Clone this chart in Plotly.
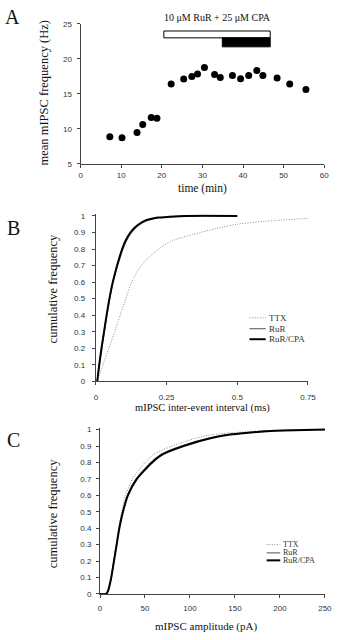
import plotly.graph_objects as go

# ---------------- Data ----------------
# Panel A: mean mIPSC frequency over time
time_min = [7.2, 10.2, 13.9, 15.3, 17.4, 18.8, 22.3, 25.4, 27.4, 28.8, 30.5, 33.0,
            34.4, 37.4, 39.4, 41.4, 43.4, 44.9, 48.4, 51.5, 55.5]
freq_hz = [8.85, 8.7, 9.45, 10.6, 11.6, 11.5, 16.4, 17.1, 17.45, 17.8, 18.75, 17.75,
           17.3, 17.6, 17.15, 17.6, 18.3, 17.6, 17.25, 16.4, 15.6]
rur_span = [20.5, 46.7]      # 10 uM RuR + 25 uM CPA application bar (white)
cpa_span = [34.9, 46.7]      # black bar
drug_label = "10 \u03bcM RuR + 25 \u03bcM CPA"

# Panel B: cumulative inter-event interval (ms)
cum_b = [0, 0.1, 0.2, 0.3, 0.4, 0.5, 0.6, 0.7, 0.8, 0.85, 0.9, 0.93, 0.95, 0.97, 0.98, 0.99, 0.995, 1.0, 1.0]
rurcpa_b = [0.005, 0.012, 0.020, 0.029, 0.038, 0.048, 0.060, 0.075, 0.093, 0.105, 0.122, 0.138,
            0.152, 0.172, 0.19, 0.22, 0.26, 0.32, 0.50]
rur_b = [0.005, 0.012, 0.021, 0.030, 0.039, 0.049, 0.061, 0.077, 0.096, 0.108, 0.126, 0.142,
         0.157, 0.178, 0.196, 0.225, 0.265, 0.33, 0.50]
cum_b_ttx = [0, 0.1, 0.2, 0.3, 0.4, 0.5, 0.6, 0.7, 0.8, 0.85, 0.9, 0.93, 0.95, 0.968, 0.986]
ttx_b = [0.005, 0.025, 0.046, 0.067, 0.086, 0.106, 0.127, 0.160, 0.222, 0.27, 0.37, 0.44, 0.50, 0.60, 0.75]

# Panel C: cumulative amplitude (pA)
cum_c = [0, 0, 0.02, 0.1, 0.2, 0.3, 0.4, 0.5, 0.6, 0.7, 0.8, 0.85, 0.9, 0.95, 0.97, 0.98, 0.99, 0.995, 1.0]
rurcpa_c = [0, 7, 9, 12.5, 15.5, 18.5, 21.5, 25.5, 31, 41, 58, 70, 93, 125, 145, 162, 185, 205, 250]
rur_c = [0, 7, 9, 12.5, 15.4, 18.4, 21.3, 25.2, 30.5, 40, 56.5, 68, 90, 122, 142, 160, 183, 204, 250]
ttx_c = [0, 7, 9, 12.5, 15.3, 18, 20.5, 24, 28.5, 36, 50, 60, 80, 108, 125, 145, 170, 195, 250]

legend_names = ["TTX", "RuR", "RuR/CPA"]

# ---------------- Figure ----------------
W, H = 339, 640
def px(x):
    return x / W
def py(y):
    return 1 - y / H

SERIF = "Liberation Serif, Times New Roman, serif"
SANS = "Liberation Sans, Arial, sans-serif"

styles = {
    "TTX": dict(color="#8a8a8a", width=1.0, dash="1px,1.6px"),
    "RuR": dict(color="#7a7a7a", width=1.3, dash="solid"),
    "RuR/CPA": dict(color="#000000", width=2.0, dash="solid"),
}

fig = go.Figure()

fig.add_trace(go.Scatter(x=time_min, y=freq_hz, mode="markers", xaxis="x", yaxis="y",
                         marker=dict(color="black", size=7), showlegend=False))

for name, xs, ys in [("TTX", ttx_b, cum_b_ttx), ("RuR", rur_b, cum_b), ("RuR/CPA", rurcpa_b, cum_b)]:
    fig.add_trace(go.Scatter(x=xs, y=ys, mode="lines", xaxis="x2", yaxis="y2",
                             line=dict(shape="spline", smoothing=0.8, **styles[name]),
                             showlegend=False, name=name))
for name, xs in [("TTX", ttx_c), ("RuR", rur_c), ("RuR/CPA", rurcpa_c)]:
    fig.add_trace(go.Scatter(x=xs, y=cum_c, mode="lines", xaxis="x3", yaxis="y3",
                             line=dict(shape="spline", smoothing=0.6, **styles[name]),
                             showlegend=False, name=name))

axis_common = dict(showline=True, linecolor="#444", linewidth=1, ticks="outside", ticklen=3,
                   tickcolor="#444", tickwidth=1, showgrid=False, zeroline=False,
                   tickfont=dict(family=SANS, size=8, color="#333"))

fig.update_layout(
    width=W, height=H, margin=dict(l=0, r=0, t=0, b=0),
    paper_bgcolor="white", plot_bgcolor="white", showlegend=False,
    xaxis=dict(domain=[px(81), px(332)], range=[0, 60], dtick=10, anchor="y",
               ticklabelstandoff=1, **axis_common),
    yaxis=dict(domain=[py(162), py(20)], range=[5, 25], dtick=5, anchor="x",
               ticklabelstandoff=3, **axis_common),
    xaxis2=dict(domain=[px(96.7), px(315.3)], range=[0, 0.75], tickvals=[0, 0.25, 0.5, 0.75],
                ticktext=["0", "0.25", "0.5", "0.75"], anchor="y2", ticklabelstandoff=5, **axis_common),
    yaxis2=dict(domain=[py(382.7), py(213.3)], range=[0, 1.01], tickvals=[i / 10 for i in range(11)],
                ticktext=["0", "0.1", "0.2", "0.3", "0.4", "0.5", "0.6", "0.7", "0.8", "0.9", "1"],
                anchor="x2", ticklabelstandoff=5, **axis_common),
    xaxis3=dict(domain=[px(101), px(332.7)], range=[0, 250], dtick=50, anchor="y3",
                ticklabelstandoff=4, **axis_common),
    yaxis3=dict(domain=[py(598.3), py(430)], range=[0, 1.01], tickvals=[i / 10 for i in range(11)],
                ticktext=["0", "0.1", "0.2", "0.3", "0.4", "0.5", "0.6", "0.7", "0.8", "0.9", "1"],
                anchor="x3", ticklabelstandoff=3, **axis_common),
)

# Drug application bars (panel A)
fig.add_shape(type="rect", xref="x", yref="y", x0=rur_span[0], x1=rur_span[1], y0=22.98, y1=23.96,
              fillcolor="white", line=dict(color="black", width=1))
fig.add_shape(type="rect", xref="x", yref="y", x0=cpa_span[0], x1=cpa_span[1], y0=21.7, y1=22.98,
              fillcolor="black", line=dict(color="black", width=1))
fig.add_annotation(x=(rur_span[0] + rur_span[1]) / 2, y=25, xref="x", yref="y", text=drug_label,
                   showarrow=False, yanchor="bottom", yshift=-1,
                   font=dict(family=SERIF, size=10, color="#111"))

def ann(x, y, text, size, angle=0, xanchor="center", color="#111"):
    fig.add_annotation(x=px(x), y=py(y), xref="paper", yref="paper", text=text, showarrow=False,
                       textangle=angle, xanchor=xanchor, yanchor="middle",
                       font=dict(family=SERIF, size=size, color=color))

# Panel letters
ann(11, 13, "A", 20)
ann(12, 227, "B", 20)
ann(12, 442, "C", 20)

# Axis titles
ann(43, 90, "mean mIPSC frequency (Hz)", 12.5, angle=-90)
ann(207, 187.5, "time (min)", 11.5)
ann(52, 289, "cumulative frequency", 12.5, angle=-90)
ann(207, 410, "mIPSC inter-event interval (ms)", 10.5)
ann(52, 517, "cumulative frequency", 12.5, angle=-90)
ann(210, 631, "mIPSC amplitude (pA)", 11)

# Manual legends
def legend(x0, x1, ys, size):
    for name, y in zip(legend_names, ys):
        st = styles[name]
        fig.add_shape(type="line", xref="paper", yref="paper", x0=px(x0), x1=px(x1), y0=py(y), y1=py(y),
                      line=dict(color=st["color"], width=st["width"], dash=st["dash"]))
        ann(x1 + 1, y, name, size, xanchor="left", color="#333")

legend(255, 271.7, [318.3, 329.3, 340], 9)
legend(272.7, 286.7, [548.3, 556.7, 564.3], 8)

fig.write_html("out.html", config={"displayModeBar": False, "staticPlot": True},
               post_script="document.body.style.margin='0';document.body.style.overflow='hidden';")
